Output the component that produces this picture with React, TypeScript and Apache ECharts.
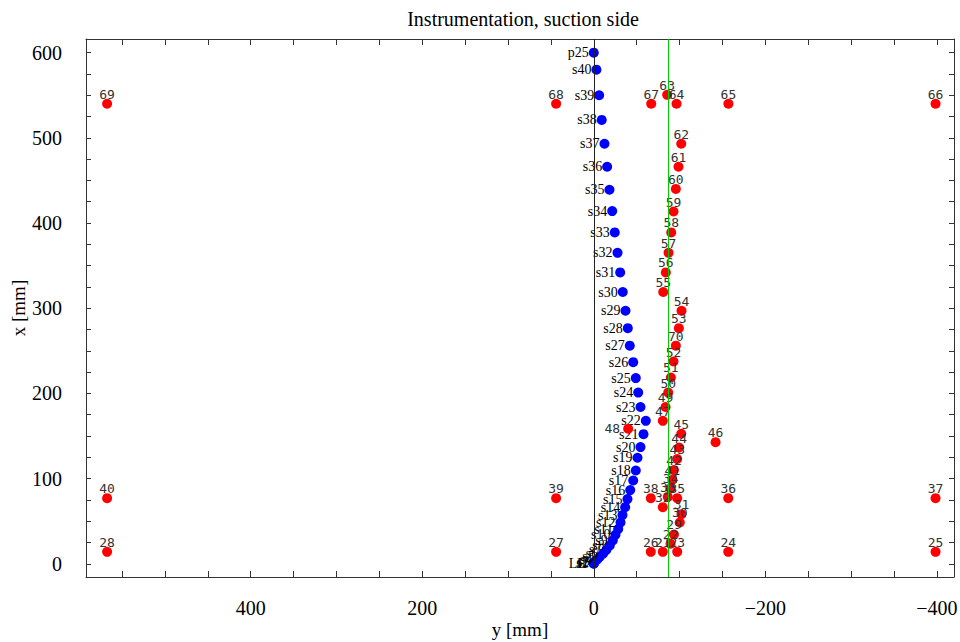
import React, { useEffect, useRef } from "react";
import * as echarts from "echarts";

// Suction-side surface points (blue): label, y [mm] (horizontal), x [mm] (vertical)
const blueLabels = [
  "LE", "s1", "s2", "s3", "s4", "s5", "s6", "s7", "s8", "s9", "s10",
  "s11", "s12", "s13", "s14", "s15", "s16", "s17", "s18", "s19", "s20",
  "s21", "s22", "s23", "s24", "s25", "s26", "s27", "s28", "s29", "s30",
  "s31", "s32", "s33", "s34", "s35", "s36", "s37", "s38", "s39", "s40", "p25",
];
const blueY = [
  0, 0, -0.2, -1.2, -4, -7, -11, -14.8, -18.7, -22.2, -25.3,
  -28.5, -31.2, -33.5, -36.6, -39.3, -42.5, -46, -49, -51, -54.5,
  -58, -60.7, -54.5, -51.8, -49, -46, -42, -39.7, -37, -33.8,
  -30.8, -27.7, -24.5, -21.5, -18.3, -15.6, -12.5, -9.3, -6.3, -3.1, 0,
];
const blueX = [
  0, 0.3, 1, 2.7, 5, 8.2, 12, 16.4, 21.5, 27.3, 34,
  40.7, 48.5, 57.2, 66.5, 76, 86.5, 97.8, 109.5, 124.5, 137,
  152.2, 167.8, 184, 201, 218, 236.7, 256, 276.6, 297, 319,
  342, 365, 389, 414, 439, 466, 493, 521, 550, 580, 600,
];

// Instrumentation points (red)
const redLabels = [
  "21", "22", "23", "24", "25", "26", "27", "28", "29", "30",
  "31", "32", "33", "34", "35", "36", "37", "38", "39", "40",
  "41", "42", "43", "44", "45", "46", "47", "48", "49", "50",
  "51", "52", "53", "54", "55", "56", "57", "58", "59", "60",
  "61", "62", "63", "64", "65", "66", "67", "68", "69", "70",
];
const redY = [
  -80.5, -89.5, -97.3, -156.8, -398.5, -66.5, 43.9, 567.4, -93.5, -100.3,
  -102.3, -80.5, -86.3, -89.5, -97.3, -156.8, -398.5, -66.5, 43.9, 567.4,
  -91.7, -93.5, -97.3, -99.6, -102, -142, -80.5, -40.1, -83.7, -86.8,
  -89.9, -93, -99.2, -102.3, -81, -84, -87.2, -90.3, -93, -95.7,
  -98.8, -102, -85.6, -96.5, -157, -398.5, -67, 43.9, 567.4, -95.7,
];
const redX = [
  14, 23.5, 14, 14, 14, 14, 14, 14, 34.4, 48.5,
  58.3, 66.5, 78.5, 88.5, 77, 77, 77, 77, 77, 77,
  98.6, 110, 123, 136.5, 152.6, 142.8, 167.8, 158.5, 184, 201,
  218.7, 237.4, 276.6, 297, 319, 342, 365, 389, 413.5, 440,
  466, 493, 550.5, 540, 540, 540, 540, 540, 540, 256,
];
const redLeftLabels = ["48"];

const xLabelTicks = [-400, -200, 0, 200, 400];
const xMinorTicks = [-400, -350, -300, -250, -200, -150, -100, -50, 0, 50, 100, 150, 200, 250, 300, 350, 400, 450, 500, 550];
const yLabelTicks = [0, 100, 200, 300, 400, 500, 600];
const yMinorTicks = [0, 25, 50, 75, 100, 125, 150, 175, 200, 225, 250, 275, 300, 325, 350, 375, 400, 425, 450, 475, 500, 525, 550, 575, 600];
const zeroLineY = 0;
const referenceLineY = -86.3;

const SERIF = "'Liberation Serif', 'DejaVu Serif', serif";

export default function App() {
  const ref = useRef<HTMLDivElement>(null);
  useEffect(() => {
    document.body.style.margin = "0";
    if (!ref.current) return;
    const chart = echarts.init(ref.current, null, { renderer: "svg" });
    const axisColor = "#333";
    const fmt = (v: number) => (v < 0 ? "\u2212" + -v : String(v));
    const xCommon = {
      type: "value",
      inverse: true,
      min: -420,
      max: 592,
      splitLine: { show: false },
      axisLine: { show: true, onZero: false, lineStyle: { color: axisColor, width: 1 } },
      axisTick: { show: true, inside: true, length: 6, customValues: xMinorTicks, lineStyle: { color: axisColor } },
    };
    const yCommon = {
      type: "value",
      min: -15.5,
      max: 616,
      splitLine: { show: false },
      axisLine: { show: true, onZero: false, lineStyle: { color: axisColor, width: 1 } },
      axisTick: { show: true, inside: true, length: 5, customValues: yMinorTicks, lineStyle: { color: axisColor } },
    };
    chart.setOption({
      animation: false,
      backgroundColor: "#fff",
      title: {
        text: "Instrumentation, suction side",
        left: 518,
        textAlign: "center",
        top: 4,
        textStyle: { fontFamily: SERIF, fontSize: 20, fontWeight: "normal", color: "#000" },
      },
      grid: { left: 86, right: 6, top: 39, bottom: 65, containLabel: false, outerBoundsMode: "none" },
      xAxis: [
        {
          ...xCommon,
          position: "bottom",
          name: "y [mm]",
          nameLocation: "middle",
          nameMoveOverlap: false,
          nameGap: 43,
          nameTextStyle: { fontFamily: SERIF, fontSize: 19, color: "#000" },
          axisLabel: {
            customValues: xLabelTicks,
            formatter: fmt,
            margin: 21,
            fontFamily: SERIF,
            fontSize: 20,
            color: "#000",
          },
        },
        { ...xCommon, position: "top", axisLabel: { show: false } },
      ],
      yAxis: [
        {
          ...yCommon,
          position: "left",
          name: "x [mm]",
          nameLocation: "middle",
          nameMoveOverlap: false,
          nameGap: 58,
          nameTextStyle: { fontFamily: SERIF, fontSize: 19, color: "#000" },
          axisLabel: {
            customValues: yLabelTicks,
            formatter: fmt,
            margin: 24,
            fontFamily: SERIF,
            fontSize: 20,
            color: "#000",
          },
        },
        { ...yCommon, position: "right", axisLabel: { show: false } },
      ],
      series: [
        {
          type: "scatter",
          name: "reference",
          data: [],
          silent: true,
          markLine: {
            silent: true,
            symbol: "none",
            animation: false,
            label: { show: false },
            data: [
              { xAxis: zeroLineY, lineStyle: { color: "#222", width: 1, type: "solid" } },
              { xAxis: referenceLineY, lineStyle: { color: "#00cc00", width: 1, type: "solid" } },
            ],
          },
        },
        {
          type: "scatter",
          name: "surface",
          symbolSize: 10,
          itemStyle: { color: "#0000ff", opacity: 1 },
          z: 3,
          data: blueLabels.map((l, i) => {
            const item: any = { value: [blueY[i], blueX[i], l] };
            if (l === "LE") item.label = { position: "left", distance: 3, offset: [0, 9] };
            return item;
          }),
          label: {
            show: true,
            position: "left",
            distance: 0,
            formatter: (p: any) => p.value[2],
            fontFamily: SERIF,
            fontSize: 14,
            color: "#000",
          },
          labelLayout: { hideOverlap: false },
        },
        {
          type: "scatter",
          name: "instrumentation",
          symbolSize: 10,
          itemStyle: { color: "#ff0000", opacity: 1 },
          z: 4,
          data: redLabels.map((l, i) => {
            const item: any = { value: [redY[i], redX[i], l] };
            if (redLeftLabels.includes(l)) item.label = { position: "left", distance: 3, offset: [0, 0] };
            return item;
          }),
          label: {
            show: true,
            position: "top",
            distance: -2,
            formatter: (p: any) => p.value[2],
            fontFamily: "'DejaVu Sans Mono', monospace",
            fontSize: 13,
            color: "#333",
          },
          labelLayout: { hideOverlap: false },
        },
      ],
    });
    return () => chart.dispose();
  }, []);
  return <div ref={ref} style={{ width: 960, height: 642 }} />;
}
